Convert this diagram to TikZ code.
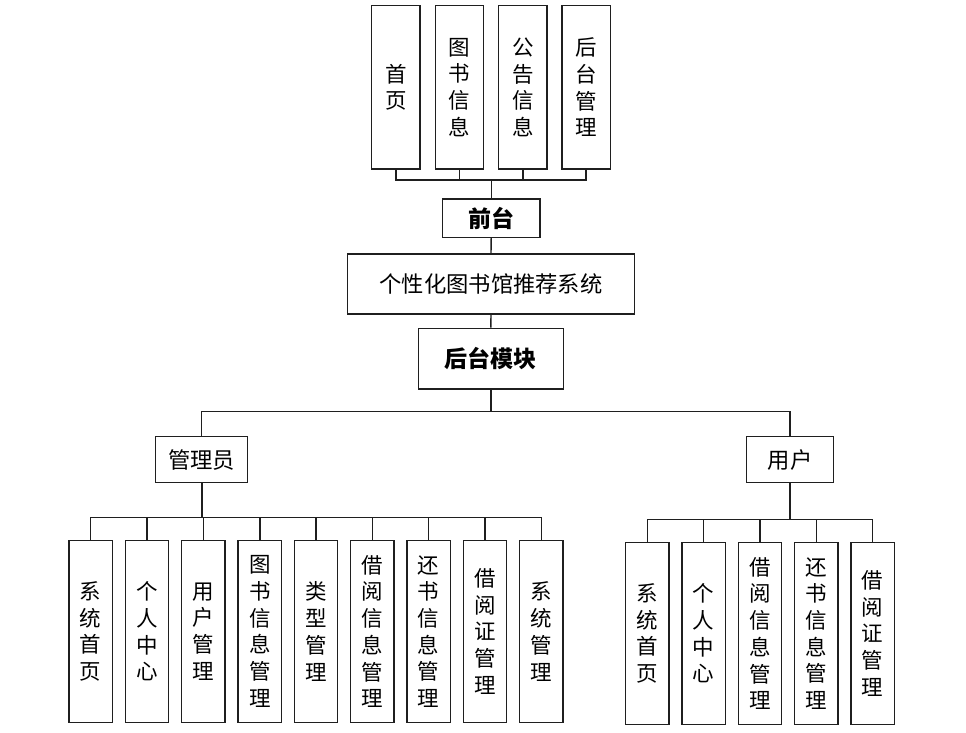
\documentclass[tikz,border=0pt]{standalone}
\usepackage{fontspec}
\setmainfont{Noto Sans CJK SC}
\newfontfamily\cjk{Noto Sans CJK SC}
\begin{document}
\begin{tikzpicture}[x=1pt,y=-1pt,
  box/.style={draw=black!88,line width=1.4pt,inner sep=0pt,align=center,
    font=\cjk\fontsize{21.5}{26.7}\selectfont},
  vbox/.style={box,minimum width=43.3pt,minimum height=181.7pt},
  tbox/.style={box,minimum width=48.3pt,minimum height=163.3pt},
  conn/.style={draw=black!88,line width=1.4pt},
]
\useasboundingbox (0,0) rectangle (966,732);
% top boxes
\node[tbox] (t1) at (395.9,87.3) {首\\页};
\node[tbox] (t2) at (459.5,87.3) {图\\书\\信\\息};
\node[tbox] (t3) at (522.8,87.3) {公\\告\\信\\息};
\node[tbox] (t4) at (586.1,87.3) {后\\台\\管\\理};
\node[box,minimum width=97.7pt,minimum height=38.3pt,font=\cjk\bfseries\fontsize{23}{26}\selectfont] (qt) at (491.2,218.3) {前台};
\node[box,minimum width=286.7pt,minimum height=60pt,font=\cjk\fontsize{22.3}{26}\selectfont] (sys) at (491,284) {个性化图书馆推荐系统};
\node[box,minimum width=145pt,minimum height=60.7pt,font=\cjk\bfseries\fontsize{23}{26}\selectfont] (ht) at (490.8,358.7) {后台模块};
\node[box,minimum width=91.7pt,minimum height=46pt,font=\cjk\fontsize{22.3}{26}\selectfont] (adm) at (201.6,459.7) {管理员};
\node[box,minimum width=86.7pt,minimum height=46pt,font=\cjk\fontsize{22.3}{26}\selectfont] (usr) at (790,459.7) {用户};
% admin children
\node[vbox] (a1) at (90.7,631.5) {系\\统\\首\\页};
\node[vbox] (a2) at (147,631.5) {个\\人\\中\\心};
\node[vbox] (a3) at (203.3,631.5) {用\\户\\管\\理};
\node[vbox] (a4) at (259.8,631.5) {图\\书\\信\\息\\管\\理};
\node[vbox] (a5) at (316,631.5) {类\\型\\管\\理};
\node[vbox] (a6) at (372.3,631.5) {借\\阅\\信\\息\\管\\理};
\node[vbox] (a7) at (428.7,631.5) {还\\书\\信\\息\\管\\理};
\node[vbox] (a8) at (485,631.5) {借\\阅\\证\\管\\理};
\node[vbox] (a9) at (541.3,631.5) {系\\统\\管\\理};
% user children
\node[vbox] (u1) at (647.2,633.5) {系\\统\\首\\页};
\node[vbox] (u2) at (703.7,633.5) {个\\人\\中\\心};
\node[vbox] (u3) at (760,633.5) {借\\阅\\信\\息\\管\\理};
\node[vbox] (u4) at (816.3,633.5) {还\\书\\信\\息\\管\\理};
\node[vbox] (u5) at (872.7,633.5) {借\\阅\\证\\管\\理};
% bus coordinates
\coordinate (tb) at (491.2,180);
\coordinate (hb) at (490.8,411.7);
\coordinate (ab) at (201.6,517.7);
\coordinate (ub) at (790,519.3);
% connectors
\foreach \n in {t1,t2,t3,t4} \draw[conn] (\n.south) |- (tb);
\draw[conn] (tb) -- (qt.north);
\draw[conn] (qt.south) -- (sys.north);
\draw[conn] (sys.south) -- (ht.north);
\draw[conn] (ht.south) -- (hb);
\draw[conn] (hb) -| (adm.north);
\draw[conn] (hb) -| (usr.north);
\draw[conn,line width=2.2pt] (adm.south) -- (ab);
\foreach \n in {a1,a2,a3,a4,a5,a6,a7,a8,a9} \draw[conn] (\n.north) |- (ab);
\draw[conn] (usr.south) -- (ub);
\foreach \n in {u1,u2,u3,u4,u5} \draw[conn] (\n.north) |- (ub);
\end{tikzpicture}
\end{document}
